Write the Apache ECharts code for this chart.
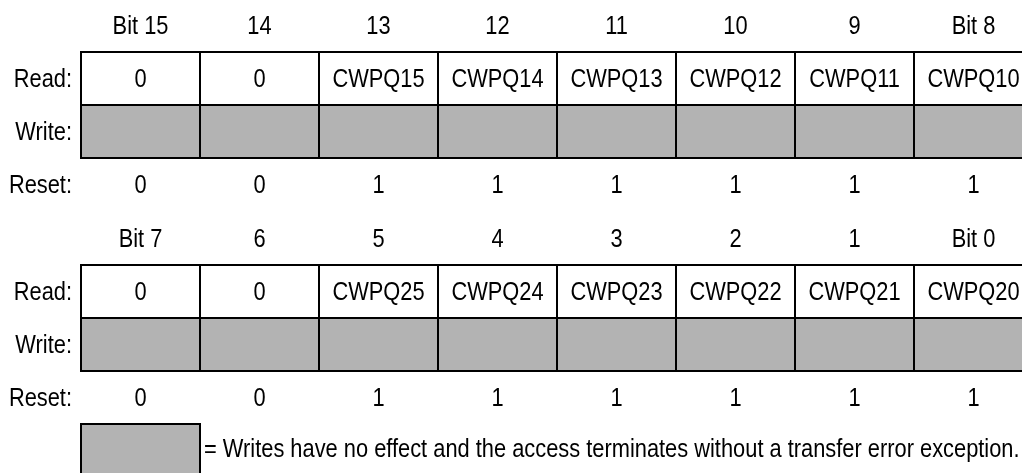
<!DOCTYPE html>
<html>
<head>
<meta charset="utf-8">
<script src="https://cdn.jsdelivr.net/npm/echarts@6/dist/echarts.min.js"></script>
<style>html,body{margin:0;padding:0;background:#fff}#c{width:1022px;height:473px}</style>
</head>
<body>
<div id="c"></div>
<script>
var bitsHigh = ["Bit 15", "14", "13", "12", "11", "10", "9", "Bit 8"];
var bitsLow = ["Bit 7", "6", "5", "4", "3", "2", "1", "Bit 0"];
var readHigh = ["0", "0", "CWPQ15", "CWPQ14", "CWPQ13", "CWPQ12", "CWPQ11", "CWPQ10"];
var readLow = ["0", "0", "CWPQ25", "CWPQ24", "CWPQ23", "CWPQ22", "CWPQ21", "CWPQ20"];
var resetHigh = ["0", "0", "1", "1", "1", "1", "1", "1"];
var resetLow = ["0", "0", "1", "1", "1", "1", "1", "1"];
var rowLabelsHigh = ["Read:", "Write:", "Reset:"];
var rowLabelsLow = ["Read:", "Write:", "Reset:", ""];
var legendText = "= Writes have no effect and the access terminates without a transfer error exception.";

var FONT = "'Liberation Sans Narrow', 'Arial Narrow', 'Liberation Sans', Arial, sans-serif";
var FS = 26;
var SX = 0.84;
var DY = 1.5;
var GRAY = '#b3b3b3';

function buildCells(bits, rowLabels, readVals, resetVals, withLegend) {
  var cells = [];
  for (var i = 0; i < 8; i++) {
    cells.push({ value: [i, 0], kind: 'header', text: bits[i] });
    cells.push({ value: [i, 0], kind: 'read', text: readVals[i] });
    cells.push({ value: [i, 1], kind: 'write', text: '' });
    cells.push({ value: [i, 2], kind: 'reset', text: resetVals[i] });
  }
  for (var r = 0; r < rowLabels.length; r++) {
    if (rowLabels[r]) cells.push({ value: [0, r], kind: 'rowlabel', text: rowLabels[r] });
  }
  if (withLegend) {
    cells.push({ value: [0, 3], kind: 'legend', text: legendText });
  }
  return cells;
}

var cellsHigh = buildCells(bitsHigh, rowLabelsHigh, readHigh, resetHigh, false);
var cellsLow = buildCells(bitsLow, rowLabelsLow, readLow, resetLow, true);

function txt(x, y, s, align) {
  return {
    type: 'text', x: x, y: y + DY, scaleX: SX, z2: 10,
    style: { x: 0, y: 0, text: s, fill: '#000', font: FS + 'px ' + FONT, align: align, verticalAlign: 'middle' }
  };
}

function makeRender(cells) {
  return function (params, api) {
    var c = cells[params.dataIndex];
    var pt = api.coord([api.value(0), api.value(1)]);
    var sz = api.size([1, 1]);
    var w = sz[0], h = sz[1];
    var x0 = pt[0] - w / 2, y0 = pt[1] - h / 2;
    var children = [];
    if (c.kind === 'read' || c.kind === 'write' || c.kind === 'legend') {
      children.push({
        type: 'rect',
        shape: { x: x0, y: y0, width: w, height: h },
        style: { fill: c.kind === 'read' ? '#fff' : GRAY, stroke: '#000', lineWidth: 2 }
      });
    }
    if (c.kind === 'read' || c.kind === 'reset') children.push(txt(pt[0], pt[1], c.text, 'center'));
    if (c.kind === 'header') children.push(txt(pt[0], pt[1] - h, c.text, 'center'));
    if (c.kind === 'rowlabel') children.push(txt(x0 - 9, pt[1], c.text, 'right'));
    if (c.kind === 'legend') children.push(txt(x0 + w + 4, pt[1] - 2, c.text, 'left'));
    return { type: 'group', children: children };
  };
}

function xAxisFor(idx, labels) {
  return {
    type: 'category', gridIndex: idx, data: labels, position: 'top',
    axisLine: { show: false }, axisTick: { show: false }, splitLine: { show: false },
    axisLabel: { show: false }
  };
}
function yAxisFor(idx, labels) {
  return {
    type: 'category', gridIndex: idx, data: labels, inverse: true,
    axisLine: { show: false }, axisTick: { show: false }, splitLine: { show: false },
    axisLabel: { show: false }
  };
}

var chart = echarts.init(document.getElementById('c'), null, { renderer: 'canvas' });
chart.setOption({
  backgroundColor: '#fff',
  animation: false,
  grid: [
    { left: 81, top: 52, width: 952, height: 159, outerBoundsMode: 'none', containLabel: false },
    { left: 81, top: 265, width: 952, height: 212, outerBoundsMode: 'none', containLabel: false }
  ],
  xAxis: [xAxisFor(0, bitsHigh), xAxisFor(1, bitsLow)],
  yAxis: [yAxisFor(0, rowLabelsHigh), yAxisFor(1, rowLabelsLow)],
  series: [
    { type: 'custom', xAxisIndex: 0, yAxisIndex: 0, data: cellsHigh, renderItem: makeRender(cellsHigh), clip: false },
    { type: 'custom', xAxisIndex: 1, yAxisIndex: 1, data: cellsLow, renderItem: makeRender(cellsLow), clip: false }
  ]
});
</script>
</body>
</html>
